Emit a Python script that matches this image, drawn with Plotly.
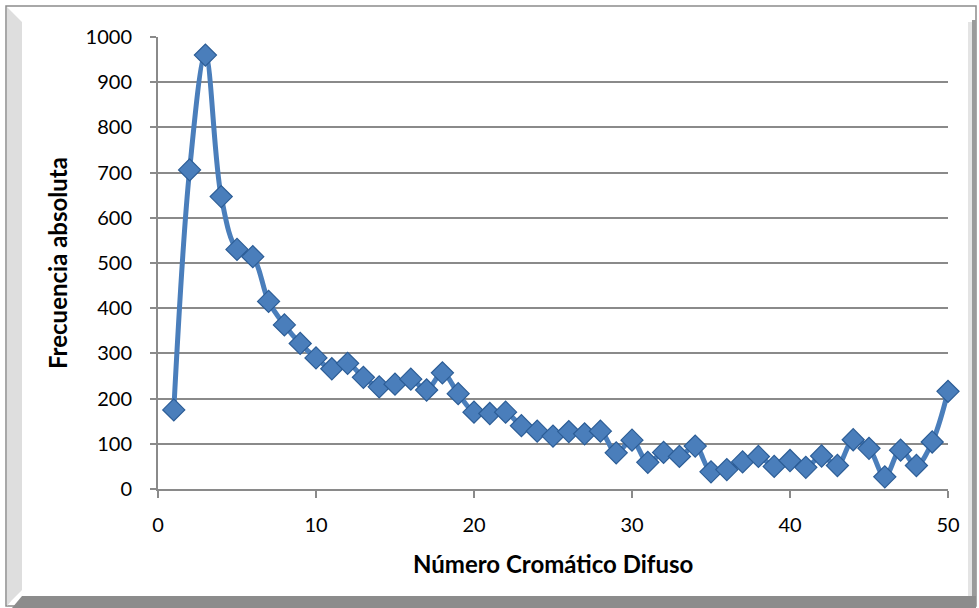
import plotly.graph_objects as go

x_vals = list(range(1, 51))
frecuencia = [175, 706, 960, 647, 530, 514, 415, 363, 322, 290,
              266, 278, 247, 226, 232, 243, 219, 257, 211, 170,
              167, 170, 140, 128, 117, 127, 122, 128, 80, 108,
              59, 81, 72, 95, 38, 43, 60, 72, 50, 63,
              48, 73, 52, 109, 90, 27, 86, 52, 104, 216]
y_ticks = list(range(0, 1001, 100))
x_ticks = [0, 10, 20, 30, 40, 50]

W, H = 979, 608
L, R, T, B = 158, 948, 37, 489

def px(x):
    return (x - L) / (R - L)

def py(y):
    return (B - y) / (B - T)

FONT = "Lato"
GRID = "#8a8a8a"

fig = go.Figure()
fig.add_trace(go.Scatter(
    x=x_vals, y=frecuencia, mode="lines+markers",
    line=dict(color="#4a7ebb", width=5, shape="spline", smoothing=1.0),
    marker=dict(symbol="diamond", size=17, color="#4a7ebb",
                line=dict(color="#2c5d96", width=1.2)),
    hoverinfo="x+y", showlegend=False, cliponaxis=False,
))

shapes = [
    dict(type="rect", xref="paper", yref="paper", x0=px(6), x1=px(976), y0=py(606), y1=py(6),
         line=dict(color="#8c8c8c", width=1.5), fillcolor="rgba(0,0,0,0)", layer="below"),
    dict(type="path", xref="paper", yref="paper",
         path=f"M {px(7)} {py(7)} L {px(12)} {py(12)} L {px(22)} {py(22)} L {px(22)} {py(590)} L {px(12)} {py(600)} L {px(7)} {py(606)} Z",
         fillcolor="#dedede", line=dict(width=0), layer="below"),
    dict(type="path", xref="paper", yref="paper",
         path=f"M {px(12)} {py(608)} L {px(22)} {py(596)} L {px(976)} {py(596)} L {px(976)} {py(608)} Z",
         fillcolor="#8c8c8c", line=dict(width=0), layer="below"),
    dict(type="rect", xref="paper", yref="paper", x0=px(972), x1=px(976), y0=py(596), y1=py(20),
         fillcolor="#9a9a9a", line=dict(width=0), layer="below"),
    dict(type="rect", xref="paper", yref="paper", x0=px(968), x1=px(972), y0=py(596), y1=py(22),
         fillcolor="#e4e4e4", line=dict(width=0), layer="below"),
]

fig.update_layout(
    width=W, height=H,
    margin=dict(l=L, r=W - R, t=T, b=H - B),
    paper_bgcolor="white", plot_bgcolor="white",
    font=dict(family=FONT, size=19, color="black"),
    shapes=shapes,
    xaxis=dict(range=[0, 50], tickvals=x_ticks, ticks="outside", ticklen=7, tickwidth=1.5,
               tickcolor=GRID, showline=True, linecolor=GRID, linewidth=2,
               showgrid=False, zeroline=False, ticklabelstandoff=10,
               tickfont=dict(family=FONT, size=20)),
    yaxis=dict(range=[0, 1000], tickvals=y_ticks, ticks="outside", ticklen=6, tickwidth=1.5,
               tickcolor=GRID, showline=True, linecolor=GRID, linewidth=2,
               showgrid=True, gridcolor=GRID, gridwidth=2, zeroline=False,
               ticklabelstandoff=14, tickfont=dict(family=FONT, size=20)),
    annotations=[
        dict(text="<b>Número Cromático Difuso</b>", xref="paper", yref="paper",
             x=px(553), y=py(563), showarrow=False, font=dict(family=FONT, size=24),
             xanchor="center", yanchor="middle"),
        dict(text="<b>Frecuencia absoluta</b>", xref="paper", yref="paper",
             x=px(57), y=py(263), showarrow=False, textangle=-90, font=dict(family=FONT, size=24),
             xanchor="center", yanchor="middle"),
    ],
)

fig.write_html("out.html")
